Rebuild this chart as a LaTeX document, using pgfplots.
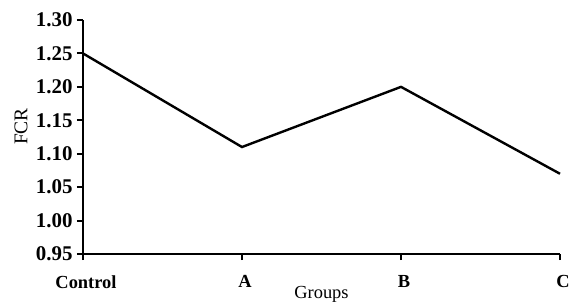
\documentclass[border=0pt]{standalone}
\usepackage{pgfplots}
\pgfplotsset{compat=1.18}
\usepackage{fontspec}
\setmainfont{Liberation Serif}
\begin{document}
\begin{tikzpicture}
\path[use as bounding box] (-83bp,-49bp) rectangle (489bp,254bp);
\begin{axis}[
  scale only axis,
  width=477bp, height=234bp,
  at={(0,0)}, anchor=south west,
  xmin=0, xmax=3, ymin=0.95, ymax=1.30,
  axis x line*=bottom, axis y line*=left,
  axis line style={line width=2.4bp, -},
  xtick={0,1,2,3},
  xticklabels={Control,A,B,C},
  ytick={0.95,1.00,1.05,1.10,1.15,1.20,1.25,1.30},
  yticklabel={\pgfmathprintnumber[fixed,fixed zerofill,precision=2,assume math mode=true]{\tick}},
  tick align=outside,
  major tick length=6bp,
  tick style={line width=2bp, black},
  xticklabel style={font=\fontsize{18.5}{20}\selectfont\bfseries, yshift=-12bp, xshift=3bp},
  yticklabel style={font=\fontsize{21}{22}\selectfont\bfseries, xshift=-1bp},
  xlabel={Groups}, ylabel={FCR},
  xlabel style={font=\fontsize{18.5}{20}\selectfont, at={(axis description cs:0.5,0)}, anchor=base, yshift=-44bp},
  ylabel style={font=\fontsize{19.5}{22}\selectfont, at={(axis description cs:-0.130,0.545)}, anchor=center},
  clip=false,
]
\addplot[black, line width=2.4bp] coordinates {(0,1.25) (1,1.11) (2,1.20) (3,1.07)};
\end{axis}
\end{tikzpicture}
\end{document}
